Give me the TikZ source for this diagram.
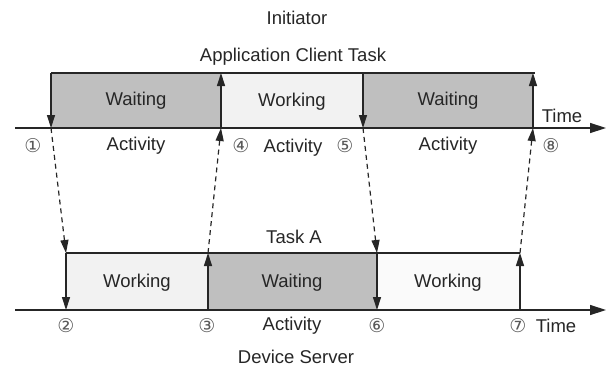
\documentclass[tikz,border=0pt]{standalone}
\usepackage{fontspec}
\setmainfont{Liberation Sans}
\newfontfamily\circfont{DejaVu Sans}
\usetikzlibrary{arrows.meta}
\begin{document}
\begin{tikzpicture}[x=1pt,y=-1pt,
  lbl/.style={font=\fontsize{18.5}{21}\selectfont, inner sep=0pt, text=black!85},
  num/.style={font=\circfont\fontsize{19}{21}\selectfont, inner sep=0pt, text=black!65},
  ln/.style={line width=1.3pt, draw=black!85},
  tipd/.style={-{Stealth[length=13pt,width=8pt,inset=0pt]}},
  dsh/.style={line width=1.2pt, draw=black!85, dash pattern=on 5pt off 4pt},
  axis/.style={line width=1.4pt, draw=black!85, -{Stealth[length=16pt,width=10pt,inset=0pt]}},
  waitc/.style={fill=black!25},
  workc/.style={fill=black!5}
]
\useasboundingbox (0,0) rectangle (608,370);
% top timeline coordinates
\coordinate (t1) at (51,73);  \coordinate (a1) at (51,128);
\coordinate (t4) at (221,73); \coordinate (a4) at (221,128);
\coordinate (t5) at (363,73); \coordinate (a5) at (363,128);
\coordinate (t8) at (533,73); \coordinate (a8) at (533,128);
\coordinate (ax0) at (15,128); \coordinate (ax1) at (606,128);
% bottom timeline coordinates
\coordinate (b2t) at (66,253);  \coordinate (b2) at (66,310);
\coordinate (b3t) at (208,253); \coordinate (b3) at (208,310);
\coordinate (b6t) at (377,253); \coordinate (b6) at (377,310);
\coordinate (b7t) at (520,253); \coordinate (b7) at (520,310);
\coordinate (bx0) at (15,310); \coordinate (bx1) at (606,310);
% fills
\fill[waitc] (t1) rectangle (a4);
\fill[workc] (t4) rectangle (a5);
\fill[waitc] (t5) rectangle (a8);
\fill[workc] (b2t) rectangle (b3);
\fill[waitc] (b3t) rectangle (b6);
\fill[black!2] (b6t) rectangle (b7);
% top lines
\draw[ln] (t1) -- ([xshift=2pt]t8);
\draw[ln] (b2t) -- (b7t);
% axes
\draw[axis] (ax0) -- (ax1);
\draw[axis] (bx0) -- (bx1);
% vertical arrows top
\draw[ln,tipd] (t1) -- (a1);
\draw[ln,tipd] (a4) -- (t4);
\draw[ln,tipd] (t5) -- (a5);
\draw[ln,tipd] (a8) -- (t8);
% vertical arrows bottom
\draw[ln,tipd] (b2t) -- (b2);
\draw[ln,tipd] (b3) -- (b3t);
\draw[ln,tipd] (b6t) -- (b6);
\draw[ln,tipd] (b7) -- (b7t);
% dashed messages
\draw[dsh,tipd] (a1) -- (b2t);
\draw[dsh,tipd] (b3t) -- (a4);
\draw[dsh,tipd] (a5) -- (b6t);
\draw[dsh,tipd] (b7t) -- (a8);
% labels top
\node[lbl] (init) at (297,18) {Initiator};
\node[lbl] (act) at (293,57) {Application Client Task};
\node[lbl] (w1) at (136,101) {Waiting};
\node[lbl] (k1) at (292,102) {Working};
\node[lbl] (w2) at (448,101) {Waiting};
\node[lbl] (time1) at (562,116) {Time};
\node[num] (n1) at (33,146) {①};
\node[lbl] (ac1) at (136,146) {Activity};
\node[num] (n4) at (241,146) {④};
\node[lbl] (ac2) at (293,148) {Activity};
\node[num] (n5) at (345,146) {⑤};
\node[lbl] (ac3) at (448,146) {Activity};
\node[num] (n8) at (551,146) {⑧};
% labels bottom
\node[lbl] (taska) at (294,237) {Task A};
\node[lbl] (k2) at (137,283) {Working};
\node[lbl] (w3) at (292,283) {Waiting};
\node[lbl] (k3) at (448,283) {Working};
\node[num] (n2) at (66,326) {②};
\node[num] (n3) at (207,326) {③};
\node[lbl] (ac4) at (292,326) {Activity};
\node[num] (n6) at (377,326) {⑥};
\node[num] (n7) at (518,326) {⑦};
\node[lbl] (time2) at (556,326) {Time};
\node[lbl] (ds) at (296,357) {Device Server};
\end{tikzpicture}
\end{document}
